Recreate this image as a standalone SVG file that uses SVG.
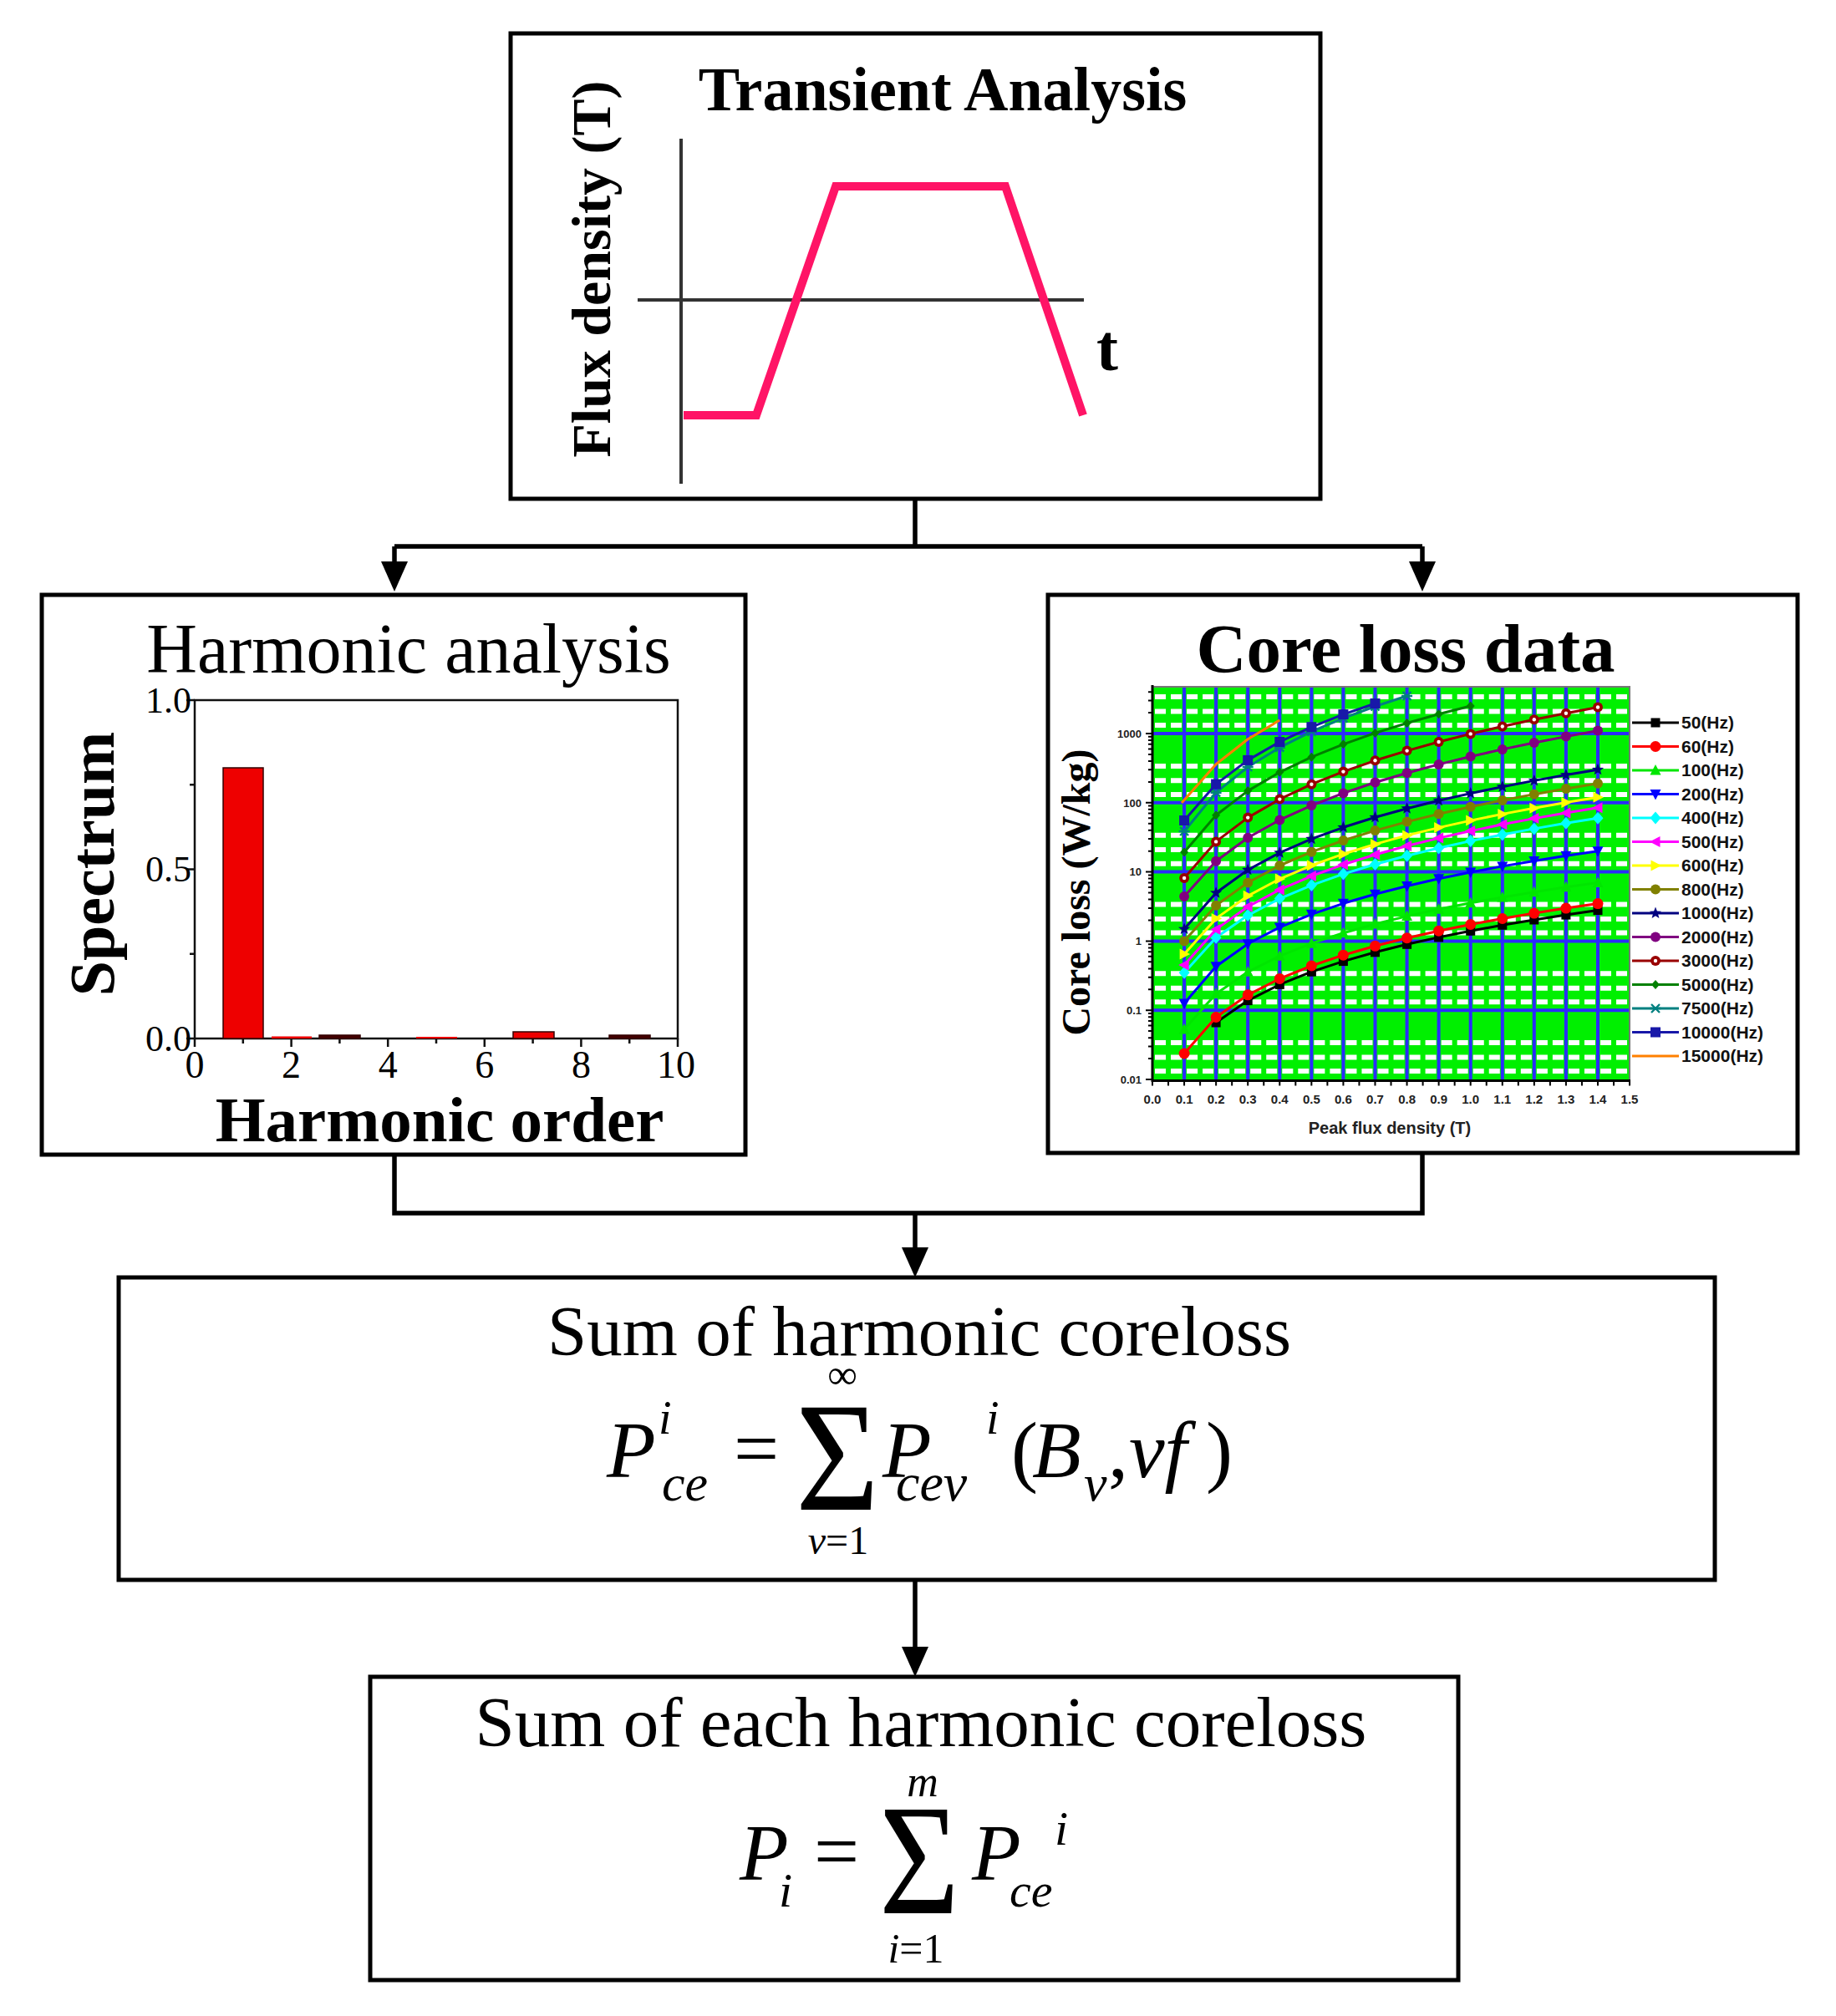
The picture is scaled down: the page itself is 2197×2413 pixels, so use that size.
<svg xmlns="http://www.w3.org/2000/svg" width="2197" height="2413" viewBox="0 0 2197 2413">
<style>
.box{fill:#fff;stroke:#000;stroke-width:5}
.conn{fill:none;stroke:#000;stroke-width:5.5}
.serif{font-family:"Liberation Serif","Times New Roman",serif}
.sans{font-family:"Liberation Sans",Arial,sans-serif}
.b{font-weight:bold}
.it{font-style:italic}
.ser{fill:none;stroke-width:3;stroke-linejoin:round}
.s0{stroke:#000;marker:url(#mk0)}
.s1{stroke:#ff0000;marker:url(#mk1)}
.s2{stroke:#00e600;marker:url(#mk2)}
.s3{stroke:#0000ff;marker:url(#mk3)}
.s4{stroke:#00ffff;marker:url(#mk4)}
.s5{stroke:#ff00ff;marker:url(#mk5)}
.s6{stroke:#ffff00;marker:url(#mk6)}
.s7{stroke:#808000;marker:url(#mk7)}
.s8{stroke:#000080;marker:url(#mk8)}
.s9{stroke:#800080;marker:url(#mk9)}
.s10{stroke:#990000;marker:url(#mk10)}
.s11{stroke:#008000;marker:url(#mk11)}
.s12{stroke:#008080;marker:url(#mk12)}
.s13{stroke:#1818a8;marker:url(#mk13)}
.s14{stroke:#ff8000}
.lg{marker-start:none;marker-end:none}
.leg{font-family:"Liberation Sans",Arial,sans-serif;font-weight:bold;font-size:21px;fill:#111}
.tick{font-family:"Liberation Sans",Arial,sans-serif;font-weight:bold;fill:#222}
</style>
<defs>
<marker id="arr" viewBox="0 0 36 32" markerWidth="36" markerHeight="32" markerUnits="userSpaceOnUse" refX="28" refY="16" orient="auto"><path d="M0,0 L36,16 L0,32 Z" fill="#000"/></marker>
<marker id="mk0" viewBox="-8 -8 16 16" markerWidth="16" markerHeight="16" markerUnits="userSpaceOnUse"><rect x="-5.5" y="-5.5" width="11" height="11" fill="#000"/></marker>
<marker id="mk1" viewBox="-8 -8 16 16" markerWidth="16" markerHeight="16" markerUnits="userSpaceOnUse"><circle r="6.5" fill="#ff0000"/></marker>
<marker id="mk2" viewBox="-8 -8 16 16" markerWidth="16" markerHeight="16" markerUnits="userSpaceOnUse"><path d="M0,-7 L6.5,5.5 L-6.5,5.5Z" fill="#00e600"/></marker>
<marker id="mk3" viewBox="-8 -8 16 16" markerWidth="16" markerHeight="16" markerUnits="userSpaceOnUse"><path d="M0,7 L6.5,-5.5 L-6.5,-5.5Z" fill="#0000ff"/></marker>
<marker id="mk4" viewBox="-8 -8 16 16" markerWidth="16" markerHeight="16" markerUnits="userSpaceOnUse"><path d="M0,-7.5 L6.5,0 L0,7.5 L-6.5,0Z" fill="#00ffff"/></marker>
<marker id="mk5" viewBox="-8 -8 16 16" markerWidth="16" markerHeight="16" markerUnits="userSpaceOnUse"><path d="M-7,0 L5.5,-6.5 L5.5,6.5Z" fill="#ff00ff"/></marker>
<marker id="mk6" viewBox="-8 -8 16 16" markerWidth="16" markerHeight="16" markerUnits="userSpaceOnUse"><path d="M7,0 L-5.5,-6.5 L-5.5,6.5Z" fill="#ffff00"/></marker>
<marker id="mk7" viewBox="-8 -8 16 16" markerWidth="16" markerHeight="16" markerUnits="userSpaceOnUse"><circle r="6" fill="#808000"/></marker>
<marker id="mk8" viewBox="-8 -8 16 16" markerWidth="16" markerHeight="16" markerUnits="userSpaceOnUse"><path d="M0,-7.5 L1.9,-2.6 L7.1,-2.3 L3.05,1 L4.4,6.05 L0,3.2 L-4.4,6.05 L-3.05,1 L-7.1,-2.3 L-1.9,-2.6Z" fill="#000080"/></marker>
<marker id="mk9" viewBox="-8 -8 16 16" markerWidth="16" markerHeight="16" markerUnits="userSpaceOnUse"><circle r="6" fill="#800080"/></marker>
<marker id="mk10" viewBox="-8 -8 16 16" markerWidth="16" markerHeight="16" markerUnits="userSpaceOnUse"><circle r="6" fill="#990000"/><circle r="2.2" fill="#fff"/></marker>
<marker id="mk11" viewBox="-8 -8 16 16" markerWidth="16" markerHeight="16" markerUnits="userSpaceOnUse"><path d="M0,-5.5 L5,0 L0,5.5 L-5,0Z" fill="#008000"/></marker>
<marker id="mk12" viewBox="-8 -8 16 16" markerWidth="16" markerHeight="16" markerUnits="userSpaceOnUse"><path d="M-5,-5 L5,5 M-5,5 L5,-5 M-6.5,0 L6.5,0" stroke="#008080" stroke-width="2.4" fill="none"/></marker>
<marker id="mk13" viewBox="-8 -8 16 16" markerWidth="16" markerHeight="16" markerUnits="userSpaceOnUse"><rect x="-6" y="-6" width="12" height="12" fill="#1818a8"/></marker>
</defs>

<rect width="2197" height="2413" fill="#fff"/>

<!-- Node 1: Transient Analysis -->
<g id="node-transient">
<rect class="box" x="611" y="40" width="969" height="557"/>
<text class="serif b" x="1128" y="132" font-size="74" text-anchor="middle">Transient Analysis</text>
<text class="serif b" font-size="66" text-anchor="middle" transform="translate(730,322) rotate(-90)">Flux density (T)</text>
<path d="M815 166 V579 M763 359 H1297" stroke="#333" stroke-width="4" fill="none"/>
<path d="M818 497 L905 497 L1000 223 L1203 223 L1296 497" stroke="#ff1466" stroke-width="10" fill="none" stroke-linejoin="miter"/>
<text class="serif b" x="1312" y="443" font-size="78">t</text>
</g>

<!-- Node 2: Harmonic analysis -->
<g id="node-harmonic">
<rect class="box" x="50" y="712" width="842" height="670"/>
<text class="serif" x="489" y="805" font-size="84" text-anchor="middle">Harmonic analysis</text>
<rect x="233" y="838" width="578" height="405" fill="#fff" stroke="#111" stroke-width="2.5"/>
<path d="M233 838h-10M233 1040.5h-10M233 1243h-10M233 939.3h-6M233 1141.8h-6" stroke="#111" stroke-width="2.5"/>
<path d="M233 1243v10M290.8 1243v6M348.6 1243v10M406.4 1243v6M464.2 1243v10M522 1243v6M579.8 1243v10M637.6 1243v6M695.4 1243v10M753.2 1243v6M811 1243v10" stroke="#111" stroke-width="2.5"/>
<g fill="#ee0000" stroke="#300" stroke-width="1.5">
<rect x="267" y="919" width="48" height="324"/>
<rect x="325" y="1240.5" width="48" height="2.5" stroke="none"/>
<rect x="382" y="1239" width="49" height="4" fill="#400"/>
<rect x="498" y="1241" width="49" height="2" stroke="none"/>
<rect x="614" y="1235" width="49" height="8"/>
<rect x="729" y="1239" width="49" height="4" fill="#400"/>
</g>
<g class="serif" font-size="44" text-anchor="end">
<text x="229" y="853">1.0</text>
<text x="229" y="1055">0.5</text>
<text x="229" y="1258">0.0</text>
</g>
<g class="serif" font-size="46" text-anchor="middle">
<text x="233" y="1290">0</text>
<text x="348.6" y="1290">2</text>
<text x="464.2" y="1290">4</text>
<text x="579.8" y="1290">6</text>
<text x="695.4" y="1290">8</text>
<text x="809" y="1290">10</text>
</g>
<text class="serif b" font-size="76" text-anchor="middle" transform="translate(136,1034) rotate(-90)">Spectrum</text>
<text class="serif b" x="526" y="1366" font-size="77" text-anchor="middle">Harmonic order</text>
</g>

<!-- Node 3: Core loss data -->
<g id="node-coreloss">
<rect class="box" x="1254" y="712" width="897" height="668"/>
<text class="serif b" x="1682" y="804" font-size="83" text-anchor="middle">Core loss data</text>
<rect x="1379" y="822" width="571" height="470" fill="#00f000"/>
<path d="M1379 1282.1H1950M1379 1265.5H1950M1379 1248.1H1950M1379 1199.3H1950M1379 1182.7H1950M1379 1165.3H1950M1379 1116.5H1950M1379 1099.9H1950M1379 1082.5H1950M1379 1033.7H1950M1379 1017.1H1950M1379 999.7H1950M1379 950.9H1950M1379 934.3H1950M1379 916.9H1950M1379 868.1H1950M1379 851.5H1950M1379 834.1H1950" stroke="#fff" stroke-width="6" stroke-dasharray="13.035 6" stroke-dashoffset="16.035" fill="none"/>
<path d="M1417.1 822V1292M1455.1 822V1292M1493.2 822V1292M1531.3 822V1292M1569.4 822V1292M1607.4 822V1292M1645.5 822V1292M1683.6 822V1292M1721.6 822V1292M1759.7 822V1292M1797.8 822V1292M1835.8 822V1292M1873.9 822V1292M1912 822V1292M1379 1209.2H1950M1379 1126.4H1950M1379 1043.6H1950M1379 960.8H1950M1379 878H1950" stroke="#2b2bff" stroke-width="4" fill="none"/>
<path d="M1379 822H1950V1292" stroke="#777" stroke-width="2" fill="none"/>
<path d="M1379 820V1293.5H1951" stroke="#000" stroke-width="3" fill="none"/>
<path d="M1378 1296H1952" stroke="#000" stroke-width="7" stroke-dasharray="2 17.035" fill="none"/>
<path d="M1371 1292h8M1371 1209.2h8M1371 1126.4h8M1371 1043.6h8M1371 960.8h8M1371 878h8M1374 1267.1h5M1374 1252.5h5M1374 1242.2h5M1374 1234.1h5M1374 1227.6h5M1374 1222h5M1374 1217.2h5M1374 1213h5M1374 1184.3h5M1374 1169.7h5M1374 1159.4h5M1374 1151.3h5M1374 1144.8h5M1374 1139.2h5M1374 1134.4h5M1374 1130.2h5M1374 1101.5h5M1374 1086.9h5M1374 1076.6h5M1374 1068.5h5M1374 1062h5M1374 1056.4h5M1374 1051.6h5M1374 1047.4h5M1374 1018.7h5M1374 1004.1h5M1374 993.8h5M1374 985.7h5M1374 979.2h5M1374 973.6h5M1374 968.8h5M1374 964.6h5M1374 935.9h5M1374 921.3h5M1374 911h5M1374 902.9h5M1374 896.4h5M1374 890.8h5M1374 886h5M1374 881.8h5M1374 853.1h5M1374 838.5h5M1374 828.2h5" stroke="#000" stroke-width="2" fill="none"/>
<g class="tick" font-size="13" text-anchor="end">
<text x="1366" y="883">1000</text>
<text x="1366" y="966">100</text>
<text x="1366" y="1048">10</text>
<text x="1366" y="1131">1</text>
<text x="1366" y="1214">0.1</text>
<text x="1366" y="1297">0.01</text>
</g>
<g class="tick" font-size="15" text-anchor="middle">
<text x="1379" y="1321">0.0</text><text x="1417.1" y="1321">0.1</text><text x="1455.1" y="1321">0.2</text><text x="1493.2" y="1321">0.3</text><text x="1531.3" y="1321">0.4</text><text x="1569.4" y="1321">0.5</text><text x="1607.4" y="1321">0.6</text><text x="1645.5" y="1321">0.7</text><text x="1683.6" y="1321">0.8</text><text x="1721.6" y="1321">0.9</text><text x="1759.7" y="1321">1.0</text><text x="1797.8" y="1321">1.1</text><text x="1835.8" y="1321">1.2</text><text x="1873.9" y="1321">1.3</text><text x="1912" y="1321">1.4</text><text x="1950" y="1321">1.5</text>
</g>
<text class="tick" x="1663" y="1357" font-size="20" text-anchor="middle">Peak flux density (T)</text>
<text class="serif b" font-size="48" text-anchor="middle" transform="translate(1304,1068) rotate(-90)">Core loss (W/kg)</text>
<g id="series">
<polyline class="ser s0" points="1455.1,1224 1493.2,1197.6 1531.3,1178.4 1569.4,1163.2 1607.4,1150.6 1645.5,1139.8 1683.6,1130.3 1721.6,1121.9 1759.7,1114.3 1797.8,1107.3 1835.8,1101 1873.9,1095.1 1912,1089.6"/>
<polyline class="ser s1" points="1417.1,1261 1455.1,1217.5 1493.2,1190.8 1531.3,1171.4 1569.4,1156 1607.4,1143.2 1645.5,1132.3 1683.6,1122.7 1721.6,1114.2 1759.7,1106.5 1797.8,1099.5 1835.8,1093.1 1873.9,1087.1 1912,1081.6"/>
<polyline class="ser s2" points="1417.1,1232 1455.1,1189.4 1493.2,1163.3 1531.3,1144.3 1569.4,1129.2 1607.4,1116.7 1645.5,1106 1683.6,1096.6 1721.6,1088.3 1759.7,1080.8 1797.8,1073.9 1835.8,1067.7 1873.9,1061.8 1912,1056.4"/>
<polyline class="ser s3" points="1417.1,1201 1455.1,1156.8 1493.2,1129.7 1531.3,1109.9 1569.4,1094.3 1607.4,1081.3 1645.5,1070.2 1683.6,1060.5 1721.6,1051.8 1759.7,1044 1797.8,1036.9 1835.8,1030.4 1873.9,1024.3 1912,1018.7"/>
<polyline class="ser s4" points="1417.1,1164.2 1455.1,1122.3 1493.2,1095.6 1531.3,1075.6 1569.4,1059.6 1607.4,1046.1 1645.5,1034.5 1683.6,1024.2 1721.6,1015 1759.7,1006.6 1797.8,999 1835.8,991.9 1873.9,985.3 1912,979.2"/>
<polyline class="ser s5" points="1417.1,1155.1 1455.1,1112.4 1493.2,1085.2 1531.3,1064.9 1569.4,1048.6 1607.4,1034.8 1645.5,1023 1683.6,1012.5 1721.6,1003.1 1759.7,994.6 1797.8,986.8 1835.8,979.6 1873.9,973 1912,966.7"/>
<polyline class="ser s6" points="1417.1,1141.9 1455.1,1099.4 1493.2,1072.3 1531.3,1052.1 1569.4,1035.8 1607.4,1022.2 1645.5,1010.4 1683.6,999.9 1721.6,990.6 1759.7,982.1 1797.8,974.4 1835.8,967.2 1873.9,960.5 1912,954.3"/>
<polyline class="ser s7" points="1417.1,1126.4 1455.1,1083.7 1493.2,1056.4 1531.3,1036 1569.4,1019.7 1607.4,1006 1645.5,994.1 1683.6,983.6 1721.6,974.2 1759.7,965.7 1797.8,957.9 1835.8,950.7 1873.9,944 1912,937.7"/>
<polyline class="ser s8" points="1417.1,1112 1455.1,1068.8 1493.2,1041.2 1531.3,1020.7 1569.4,1004.2 1607.4,990.3 1645.5,978.3 1683.6,967.7 1721.6,958.2 1759.7,949.6 1797.8,941.7 1835.8,934.4 1873.9,927.6 1912,921.3"/>
<polyline class="ser s9" points="1417.1,1073 1455.1,1030.7 1493.2,1002.7 1531.3,981.4 1569.4,964.1 1607.4,949.4 1645.5,936.5 1683.6,925.2 1721.6,914.9 1759.7,905.5 1797.8,896.9 1835.8,889 1873.9,881.6 1912,874.6"/>
<polyline class="ser s10" points="1417.1,1051 1455.1,1007.4 1493.2,978.6 1531.3,956.6 1569.4,938.7 1607.4,923.6 1645.5,910.3 1683.6,898.6 1721.6,888 1759.7,878.4 1797.8,869.5 1835.8,861.3 1873.9,853.7 1912,846.5"/>
<polyline class="ser s11" points="1417.1,1020 1455.1,975.8 1493.2,946.6 1531.3,924.3 1569.4,906.2 1607.4,890.8 1645.5,877.4 1683.6,865.5 1721.6,854.8 1759.7,845"/>
<polyline class="ser s12" points="1417.1,995 1455.1,948.7 1493.2,918 1531.3,894.7 1569.4,875.7 1607.4,859.6 1645.5,845.5 1683.6,833"/>
<polyline class="ser s13" points="1417.1,982 1455.1,938.6 1493.2,909.9 1531.3,888 1569.4,870.2 1607.4,855.1 1645.5,842"/>
<polyline class="ser s14" points="1414,961 1455.1,914.7 1493.2,884.8 1531.3,862"/>
</g>
<g id="legend">
<polyline class="ser s0 lg" points="1953,865 1981,865 2009,865"/><text class="leg" x="2012" y="872">50(Hz)</text>
<polyline class="ser s1 lg" points="1953,893.5 1981,893.5 2009,893.5"/><text class="leg" x="2012" y="900.5">60(Hz)</text>
<polyline class="ser s2 lg" points="1953,922 1981,922 2009,922"/><text class="leg" x="2012" y="929">100(Hz)</text>
<polyline class="ser s3 lg" points="1953,950.5 1981,950.5 2009,950.5"/><text class="leg" x="2012" y="957.5">200(Hz)</text>
<polyline class="ser s4 lg" points="1953,979 1981,979 2009,979"/><text class="leg" x="2012" y="986">400(Hz)</text>
<polyline class="ser s5 lg" points="1953,1007.5 1981,1007.5 2009,1007.5"/><text class="leg" x="2012" y="1014.5">500(Hz)</text>
<polyline class="ser s6 lg" points="1953,1036 1981,1036 2009,1036"/><text class="leg" x="2012" y="1043">600(Hz)</text>
<polyline class="ser s7 lg" points="1953,1064.5 1981,1064.5 2009,1064.5"/><text class="leg" x="2012" y="1071.5">800(Hz)</text>
<polyline class="ser s8 lg" points="1953,1093 1981,1093 2009,1093"/><text class="leg" x="2012" y="1100">1000(Hz)</text>
<polyline class="ser s9 lg" points="1953,1121.5 1981,1121.5 2009,1121.5"/><text class="leg" x="2012" y="1128.5">2000(Hz)</text>
<polyline class="ser s10 lg" points="1953,1150 1981,1150 2009,1150"/><text class="leg" x="2012" y="1157">3000(Hz)</text>
<polyline class="ser s11 lg" points="1953,1178.5 1981,1178.5 2009,1178.5"/><text class="leg" x="2012" y="1185.5">5000(Hz)</text>
<polyline class="ser s12 lg" points="1953,1207 1981,1207 2009,1207"/><text class="leg" x="2012" y="1214">7500(Hz)</text>
<polyline class="ser s13 lg" points="1953,1235.5 1981,1235.5 2009,1235.5"/><text class="leg" x="2012" y="1242.5">10000(Hz)</text>
<polyline class="ser s14 lg" points="1953,1264 1981,1264 2009,1264"/><text class="leg" x="2012" y="1271">15000(Hz)</text>
</g>
</g>

<!-- Node 4: Sum of harmonic coreloss -->
<g id="node-sum-harmonic">
<rect class="box" x="142" y="1529" width="1910" height="362"/>
<text class="serif" x="1100" y="1622" font-size="85" text-anchor="middle">Sum of harmonic coreloss</text>
<g class="serif">
<text class="it" x="726" y="1768" font-size="96">P</text>
<text class="it" x="788" y="1716" font-size="56">i</text>
<text class="it" x="792" y="1796" font-size="62">ce</text>
<text x="878" y="1766" font-size="96">=</text>
<text x="1008" y="1662" font-size="50" text-anchor="middle">∞</text>
<text x="952" y="1807" font-size="187" textLength="100" lengthAdjust="spacingAndGlyphs">Σ</text>
<text x="1003" y="1860" font-size="48" text-anchor="middle"><tspan class="it">v</tspan>=1</text>
<text class="it" x="1056" y="1768" font-size="96">P</text>
<text class="it" x="1072" y="1796" font-size="64">cev</text>
<text class="it" x="1180" y="1716" font-size="56">i</text>
<text x="1210" y="1768" font-size="96">(</text>
<text class="it" x="1235" y="1768" font-size="96">B</text>
<text class="it" x="1297" y="1796" font-size="62">v</text>
<text x="1326" y="1768" font-size="96">,</text>
<text class="it" x="1351" y="1768" font-size="96">vf</text>
<text x="1443" y="1768" font-size="96">)</text>
</g>
</g>

<!-- Node 5: Sum of each harmonic coreloss -->
<g id="node-sum-each">
<rect class="box" x="443" y="2007" width="1302" height="363"/>
<text class="serif" x="1102" y="2090" font-size="85" text-anchor="middle">Sum of each harmonic coreloss</text>
<g class="serif">
<text class="it" x="885" y="2250" font-size="96">P</text>
<text class="it" x="932" y="2282" font-size="58">i</text>
<text x="974" y="2248" font-size="96">=</text>
<text class="it" x="1104" y="2150" font-size="52" text-anchor="middle">m</text>
<text x="1052" y="2290" font-size="189" textLength="96" lengthAdjust="spacingAndGlyphs">Σ</text>
<text x="1096" y="2349" font-size="50" text-anchor="middle"><tspan class="it">i</tspan>=1</text>
<text class="it" x="1163" y="2250" font-size="96">P</text>
<text class="it" x="1208" y="2282" font-size="58">ce</text>
<text class="it" x="1262" y="2208" font-size="58">i</text>
</g>
</g>

<!-- Connectors -->
<g id="connectors">
<path class="conn" d="M1095 597V654M472 654H1702"/>
<path class="conn" d="M472 654V700" marker-end="url(#arr)"/>
<path class="conn" d="M1702 654V700" marker-end="url(#arr)"/>
<path class="conn" d="M472 1382V1452H1702V1380"/>
<path class="conn" d="M1095 1452V1521" marker-end="url(#arr)"/>
<path class="conn" d="M1095 1891V1999" marker-end="url(#arr)"/>
</g>
</svg>
